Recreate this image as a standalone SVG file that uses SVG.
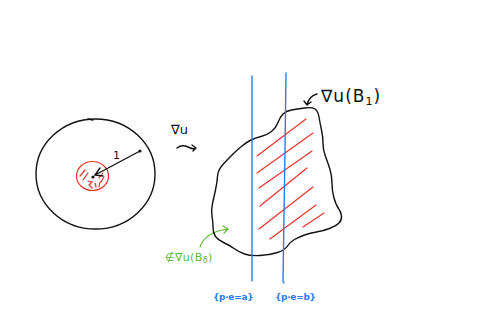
<svg xmlns="http://www.w3.org/2000/svg" width="486" height="331" viewBox="0 0 486 331">
<style>
.k{fill:none;stroke:#111;stroke-width:1.4;stroke-linecap:round;stroke-linejoin:round}
.r{fill:none;stroke:#e8352a;stroke-width:1.2;stroke-linecap:round}
.b{fill:none;stroke:#2a7de8;stroke-width:1.4;stroke-linecap:round}
.g{fill:none;stroke:#5cb83a;stroke-width:1.2;stroke-linecap:round;stroke-linejoin:round}
text{font-family:"DejaVu Sans","Liberation Sans",sans-serif}
.tk{fill:#111}
.tb{fill:#2a7de8;font-size:9px;font-weight:bold;letter-spacing:-0.3px}
.tg{fill:#5cb83a;font-size:11px}
</style>
<rect width="486" height="331" fill="#fff"/>
<g id="ball">
<ellipse class="k" cx="95.5" cy="174" rx="59.5" ry="55"/>
<path class="k" d="M88,119 L93,120"/>
</g>
<g id="small-ball">
<ellipse class="r" cx="92.5" cy="176" rx="16" ry="14.5"/>
<path class="r" d="M80,176 L85,170 M83,180 L88,173 M99,178 L103,173 M101,182 L104,177 M88,181 L92,182 L89,185 L92,188 M95,183 L96,187 M100,182 L99,187"/>
</g>
<g id="connectors">
<path class="k" d="M140,151 L95,175"/>
<path class="k" d="M100,168 L95,175 L103,176"/>
<circle cx="140" cy="151" r="1.6" fill="#111"/>
<circle cx="93" cy="177" r="1.6" fill="#111"/>
<path class="k" d="M177,148 Q182,144 188,147 T196,148 M192,145 L196,148 L193,151"/>
<path class="k" d="M317,94 Q309,96 307,105 M304,101 L307,105 L311,102"/>
<path class="g" d="M200,247 Q205,232 228,229 M223,226 L228,229 L224,233"/>
</g>
<g id="image-set">
<path class="k" d="M278,122.5 Q280,117 283,114 Q286,111 291.5,110 Q297,109 304.5,108 Q312,107 315,109 Q318,111 319,117 Q320,123 321.5,130 Q323,137 323,143.5 Q323,150 325.5,156.5 Q328,163 330,169.5 Q332,176 332,183.5 Q332,191 334,198 Q336,205 338.5,208.5 Q341,212 341.5,216 Q342,220 339,223 Q336,226 329.5,228.5 Q323,231 316.5,232 Q310,233 304.5,235 Q299,237 294.5,239.5 Q290,242 287.5,246 Q285,250 277.5,252.5 Q270,255 260,255.5 Q250,256 244.5,254 Q239,252 234,248.5 Q229,245 223.5,242.5 Q218,240 215.5,236.5 Q213,233 213,227.5 Q213,222 212,216 Q211,210 212.5,203.5 Q214,197 215.5,190 Q217,183 217.5,176.5 Q218,170 222.5,165 Q227,160 232,155 Q237,150 242,146 Q247,142 251,140 Q255,138 261,136.5 Q267,135 271.5,131.5 Q276,128 278,122.5 Z"/>
<path class="r" d="M257,156 L306,119 M257,173 L313,133 M259,188 L312,151 M260,206 L307,168 M259,229 L313,187 M270,239 L316,205 M303,227 L324,213"/>
</g>
<g id="strips">
<path class="b" d="M252,76 L252,281"/>
<path class="b" d="M286,73 L285,150 L283,281 L284,283"/>
</g>
<g id="labels">
<text class="tk" x="113" y="159" font-size="11">1</text>
<text class="tk" x="171" y="134" font-size="13">∇u</text>
<text class="tk" x="321" y="102" font-size="17" letter-spacing="1">∇u(B<tspan font-size="11" dy="3">1</tspan><tspan dy="-3">)</tspan></text>
<text class="tg" x="165" y="261" letter-spacing="0.4">∉∇u(B<tspan font-size="8" dy="2">δ</tspan><tspan dy="-2">)</tspan></text>
<text class="tb" x="213" y="300">{p·e=a}</text>
<text class="tb" x="275" y="300">{p·e=b}</text>
</g>
</svg>
